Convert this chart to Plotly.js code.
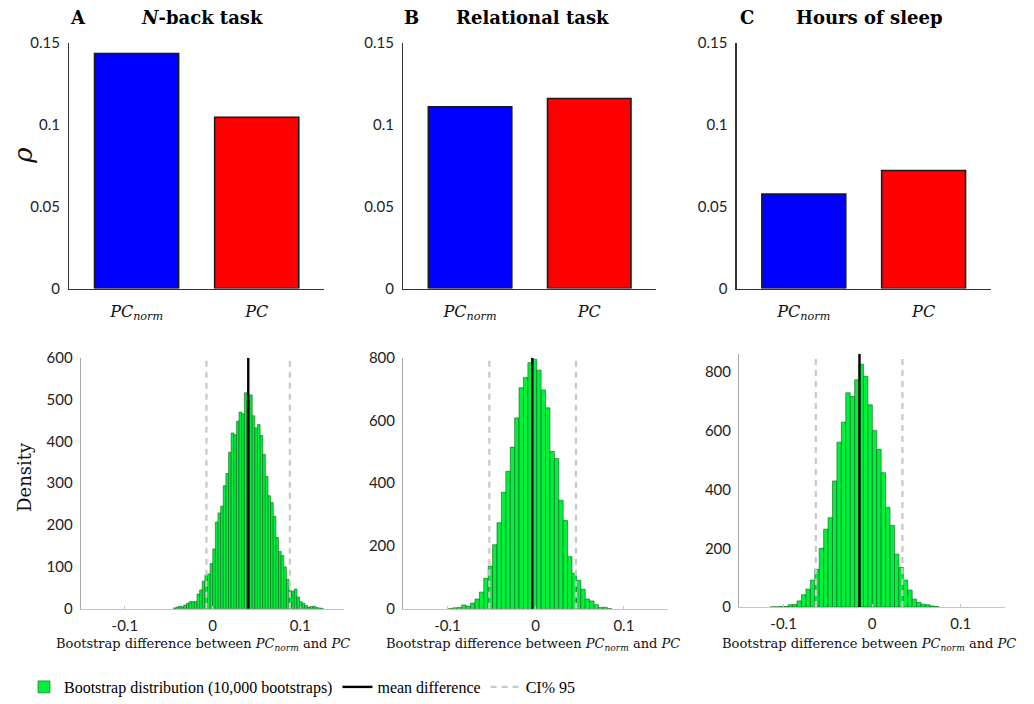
<!DOCTYPE html>
<html>
<head>
<meta charset="utf-8">
<script src="https://cdn.plot.ly/plotly-3.0.1.min.js"></script>
<style>html,body{margin:0;padding:0;background:#fff;}#chart{width:1034px;height:704px;}</style>
</head>
<body>
<div id="chart"></div>
<script>
// ---------- data ----------
const methodLabels = ['<i>PC<sub>norm</sub></i>', '<i>PC</i>'];
const panelTitles = ['<i>N</i>-back task', 'Relational task', 'Hours of sleep'];
const panelLetters = ['A', 'B', 'C'];

const rhoNback = [0.1435, 0.1046];
const rhoRelational = [0.1110, 0.1161];
const rhoSleep = [0.0577, 0.0721];

const binStartNback = -0.0447, binWidthNback = 0.003;
const countsNback = [2,4,6,5,9,13,17,17,17,35,45,66,80,83,108,143,207,229,245,294,323,374,420,416,448,470,466,516,
  499,511,461,432,440,414,369,316,270,254,221,170,137,127,100,70,43,42,47,28,17,13,8,4,5,6,3,2,1];

const binStartRelational = -0.0988, binWidthRelational = 0.005;
const countsRelational = [1,3,4,12,8,18,31,53,97,136,204,274,371,438,515,608,704,737,784,795,760,697,640,501,479,346,281,166,113,91,62,31,25,13,4,5,1];

const binStartSleep = -0.1148, binWidthSleep = 0.005;
const countsSleep = [1,1,2,2,8,9,21,42,61,92,128,200,265,304,429,561,629,729,716,773,826,785,688,601,536,457,339,278,180,135,92,58,27,16,10,8,4,2];

const meanDiff = [0.0408, -0.0038, -0.0143];
const ciLow = [-0.0069, -0.0525, -0.0636];
const ciHigh = [0.0882, 0.0457, 0.0342];

const densityTickVals = [[0,100,200,300,400,500,600],[0,200,400,600,800],[0,200,400,600,800]];
const diffTickVals = [-0.1, 0, 0.1];
const diffTickText = ['-0.1', '0', '0.1'];
const rhoTickVals = [0, 0.05, 0.1, 0.15];
const rhoTickText = ['0', '0.05', '0.1', '0.15'];

// ---------- layout helpers ----------
const W = 1034, H = 704;
const px = v => v / W, py = v => 1 - v / H;

const topX = [[69.3, 324], [403.3, 656], [736.7, 990.7]];
const topY = [43.3, 291];
const botX = [[81, 344], [403.3, 668], [739.3, 1005]];
const botY = [[360.7, 614], [360.7, 614], [356.7, 612.3]];
const densityMax = [600, 800, 862];

const rhoSets = [rhoNback, rhoRelational, rhoSleep];
const hist = [
  [binStartNback, binWidthNback, countsNback],
  [binStartRelational, binWidthRelational, countsRelational],
  [binStartSleep, binWidthSleep, countsSleep]
];

const sans = 'Lato, "Noto Sans", sans-serif';
const serif = '"DejaVu Serif", serif';
const traces = [];
const layout = {
  width: W, height: H,
  margin: {l: 0, r: 0, t: 0, b: 0},
  paper_bgcolor: '#fff', plot_bgcolor: 'rgba(0,0,0,0)',
  showlegend: true,
  legend: {
    orientation: 'h', x: px(24), xanchor: 'left', y: py(693), yanchor: 'middle',
    font: {family: '"Liberation Serif", serif', size: 16, color: '#000'},
    bgcolor: 'rgba(0,0,0,0)', traceorder: 'normal'
  },
  annotations: [],
  bargap: 0
};

for (let i = 0; i < 3; i++) {
  const tx = 'x' + (i + 1), ty = 'y' + (i + 1);
  const bx = 'x' + (i + 4), by = 'y' + (i + 4);
  // top bar chart
  traces.push({
    type: 'bar', x: [1, 2], y: rhoSets[i], xaxis: tx, yaxis: ty, width: 0.7,
    marker: {color: ['#0000ff', '#ff0000'], line: {color: '#1a1a1a', width: 1.6}},
    showlegend: false, hoverinfo: 'skip'
  });
  layout['xaxis' + (i + 1)] = {
    domain: [px(topX[i][0]), px(topX[i][1])], anchor: ty, range: [0.44, 2.56],
    tickvals: [1, 2], ticktext: methodLabels, showgrid: false, zeroline: false,
    showline: true, linecolor: '#333', linewidth: 1.3, ticks: '',
    ticklabelstandoff: 8,
    tickfont: {family: serif, size: 16, color: '#111'}, fixedrange: true
  };
  layout['yaxis' + (i + 1)] = {
    domain: [py(topY[1]), py(topY[0])], anchor: tx, range: [0, 0.15],
    tickvals: rhoTickVals, ticktext: rhoTickText, showgrid: false, zeroline: false,
    showline: true, linecolor: '#333', linewidth: 1.3, ticks: '',
    ticklabelstandoff: 5,
    tickfont: {family: sans, size: 15, color: '#222'}, fixedrange: true
  };

  // bottom histogram
  const [start, bw, counts] = hist[i];
  const centers = counts.map((_, k) => start + bw * (k + 0.5));
  traces.push({
    type: 'bar', x: centers, y: counts, width: bw, xaxis: bx, yaxis: by,
    marker: {color: '#00f13c', line: {color: '#1d5a22', width: 0.6}},
    name: 'Bootstrap distribution (10,000 bootstraps)', legendrank: 1,
    showlegend: i === 0, legendgroup: 'boot', hoverinfo: 'skip'
  });
  traces.push({
    type: 'scatter', mode: 'lines', x: [ciLow[i], ciLow[i]], y: [0, densityMax[i]],
    xaxis: bx, yaxis: by, line: {color: '#c8c8c8', width: 2.2, dash: '6px,5px'},
    name: 'CI% 95', legendrank: 3, showlegend: i === 0, legendgroup: 'ci', hoverinfo: 'skip'
  });
  traces.push({
    type: 'scatter', mode: 'lines', x: [ciHigh[i], ciHigh[i]], y: [0, densityMax[i]],
    xaxis: bx, yaxis: by, line: {color: '#c8c8c8', width: 2.2, dash: '6px,5px'},
    showlegend: false, legendgroup: 'ci', hoverinfo: 'skip'
  });
  traces.push({
    type: 'scatter', mode: 'lines', x: [meanDiff[i], meanDiff[i]], y: [0, densityMax[i]],
    xaxis: bx, yaxis: by, line: {color: '#000', width: 2.4},
    name: 'mean difference', legendrank: 2, showlegend: i === 0, legendgroup: 'mean', hoverinfo: 'skip'
  });
  layout['xaxis' + (i + 4)] = {
    domain: [px(botX[i][0]), px(botX[i][1])], anchor: by, range: [-0.15, 0.15],
    tickvals: diffTickVals, ticktext: diffTickText, showgrid: false, zeroline: false,
    showline: true, linecolor: '#c4c4c4', linewidth: 1.3, ticks: 'inside', ticklen: 3,
    tickcolor: '#c4c4c4', ticklabelstandoff: 3,
    tickfont: {family: sans, size: 15, color: '#222'}, fixedrange: true
  };
  layout['yaxis' + (i + 4)] = {
    domain: [py(botY[i][1]), py(botY[i][0])], anchor: bx, range: [0, densityMax[i]],
    tickvals: densityTickVals[i], showgrid: false, zeroline: false,
    showline: true, linecolor: '#a8a8a8', linewidth: 1.3, ticks: '',
    ticklabelstandoff: 4,
    tickfont: {family: sans, size: 15, color: '#222'}, fixedrange: true
  };
}

// titles & labels
const titleCx = [202, 532, 869];
const letterCx = [77.5, 411, 746.5];
const botTitleCx = [203, 533, 869];
for (let i = 0; i < 3; i++) {
  layout.annotations.push({
    xref: 'paper', yref: 'paper', x: px(titleCx[i]), y: py(18), xanchor: 'center', yanchor: 'middle',
    text: '<b>' + panelTitles[i] + '</b>', showarrow: false,
    font: {family: serif, size: 18, color: '#000'}
  });
  layout.annotations.push({
    xref: 'paper', yref: 'paper', x: px(letterCx[i]), y: py(18), xanchor: 'center', yanchor: 'middle',
    text: '<b>' + panelLetters[i] + '</b>', showarrow: false,
    font: {family: serif, size: 18, color: '#000'}
  });
  layout.annotations.push({
    xref: 'paper', yref: 'paper', x: px(botTitleCx[i]), y: py(650), xanchor: 'center', yanchor: 'middle',
    text: 'Bootstrap difference between ' + methodLabels[0] + ' and ' + methodLabels[1], showarrow: false,
    font: {family: serif, size: 13, color: '#111'}
  });
}
layout.annotations.push({
  xref: 'paper', yref: 'paper', x: px(23), y: py(157), xanchor: 'center', yanchor: 'middle',
  text: '<i>ρ</i>', textangle: -90, showarrow: false,
  font: {family: serif, size: 26, color: '#111'}
});
layout.annotations.push({
  xref: 'paper', yref: 'paper', x: px(25), y: py(481), xanchor: 'center', yanchor: 'middle',
  text: 'Density', textangle: -90, showarrow: false,
  font: {family: serif, size: 18, color: '#111'}
});

Plotly.newPlot('chart', traces, layout, {displayModeBar: false, staticPlot: true});
</script>
</body>
</html>
